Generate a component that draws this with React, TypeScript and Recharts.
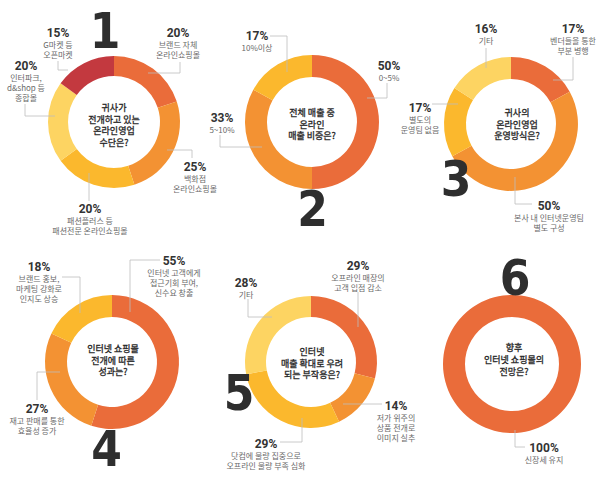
import React from 'react';
import { PieChart, Pie, Cell } from 'recharts';

// ---------- DATA ----------
const c1Names = ['브랜드 자체|온라인쇼핑몰', '백화점|온라인쇼핑몰', '패션플러스 등|패션전문 온라인쇼핑몰', '인터파크,|d&shop 등|종합몰', 'G마켓 등|오픈마켓'];
const c1Values = [20, 25, 20, 20, 15];
const c1Title = ['귀사가', '전개하고 있는', '온라인영업', '수단은?'];

const c2Names = ['0~5%', '5~10%', '10%이상'];
const c2Values = [50, 33, 17];
const c2Title = ['전체 매출 중', '온라인', '매출 비중은?'];

const c3Names = ['벤더들을 통한|부분 병행', '본사 내 인터넷운영팀|별도 구성', '별도의|운영팀 없음', '기타'];
const c3Values = [17, 50, 17, 16];
const c3Title = ['귀사의', '온라인영업', '운영방식은?'];

const c4Names = ['인터넷 고객에게|접근기회 부여,|신수요 창출', '재고 판매를 통한|효율성 증가', '브랜드 홍보,|마케팅 강화로|인지도 상승'];
const c4Values = [55, 27, 18];
const c4Title = ['인터넷 쇼핑몰', '전개에 따른', '성과는?'];

const c5Names = ['오프라인 매장의|고객 입점 감소', '저가 위주의|상품 전개로|이미지 실추', '닷컴에 물량 집중으로|오프라인 물량 부족 심화', '기타'];
const c5Values = [29, 14, 29, 28];
const c5Title = ['인터넷', '매출 확대로 우려', '되는 부작용은?'];

const c6Names = ['신장세 유지'];
const c6Values = [100];
const c6Title = ['향후', '인터넷 쇼핑몰의', '전망은?'];

const bigNumbers = ['1', '2', '3', '4', '5', '6'];

// ---------- STYLE / LAYOUT ----------
const RED = '#EA6C3A';
const ORANGE = '#F39233';
const AMBER = '#FBB82D';
const LIGHT = '#FDD462';
const DARK = '#C3393F';

const KR = '"Noto Sans CJK KR", "Noto Sans", sans-serif';
const NUM = '"Liberation Sans Narrow", "DejaVu Sans Condensed", sans-serif';
const PCT = 'Roboto, "Noto Sans CJK KR", sans-serif';

type LabelLayout = { x: number; y: number; line: number[][] };
type ChartDef = {
  names: string[];
  values: number[];
  colors: string[];
  title: string[];
  cx: number; cy: number; r: number; ir: number;
  titleX: number; titleMid: number;
  num: { x: number; y: number };
  labels: LabelLayout[];
};

const charts: ChartDef[] = [
  {
    names: c1Names, values: c1Values, colors: [RED, ORANGE, AMBER, LIGHT, DARK], title: c1Title,
    cx: 114, cy: 122, r: 66, ir: 46, titleX: 114, titleMid: 128.5,
    num: { x: 105, y: 48 },
    labels: [
      { x: 178, y: 37, line: [[180, 62], [180, 73], [148, 73]] },
      { x: 195, y: 171, line: [[167, 150], [192, 150], [192, 158]] },
      { x: 90, y: 213, line: [[89, 173], [89, 201]] },
      { x: 26, y: 70, line: [[25, 104], [25, 116], [55, 116]] },
      { x: 58, y: 37, line: [[58, 61], [58, 70], [68, 70]] },
    ],
  },
  {
    names: c2Names, values: c2Values, colors: [RED, ORANGE, AMBER], title: c2Title,
    cx: 312, cy: 122, r: 67, ir: 45, titleX: 312, titleMid: 127.5,
    num: { x: 312.5, y: 226 },
    labels: [
      { x: 389, y: 70, line: [[367, 98], [387, 98], [387, 83]] },
      { x: 222, y: 122, line: [[220, 135], [220, 147], [262, 147]] },
      { x: 257, y: 40, line: [[270, 36], [287, 36], [287, 72]] },
    ],
  },
  {
    names: c3Names, values: c3Values, colors: [RED, ORANGE, AMBER, LIGHT], title: c3Title,
    cx: 511, cy: 124, r: 67, ir: 45, titleX: 517, titleMid: 127.5,
    num: { x: 456, y: 196 },
    labels: [
      { x: 573, y: 33, line: [[573, 57], [573, 80], [553, 80]] },
      { x: 549, y: 210, line: [[515, 177], [515, 204], [532, 204]] },
      { x: 420, y: 112, line: [[432, 104], [458, 104]] },
      { x: 486, y: 33, line: [[486, 48], [486, 68]] },
    ],
  },
  {
    names: c4Names, values: c4Values, colors: [RED, ORANGE, AMBER], title: c4Title,
    cx: 112, cy: 362, r: 67, ir: 45, titleX: 113, titleMid: 363.5,
    num: { x: 106.5, y: 466 },
    labels: [
      { x: 174, y: 265, line: [[160, 260], [130, 260], [130, 312]] },
      { x: 37, y: 413, line: [[37, 400], [37, 372], [60, 372]] },
      { x: 39, y: 271, line: [[62, 277], [80, 277], [80, 313]] },
    ],
  },
  {
    names: c5Names, values: c5Values, colors: [RED, ORANGE, AMBER, LIGHT], title: c5Title,
    cx: 311, cy: 362, r: 66, ir: 45, titleX: 312, titleMid: 366.5,
    num: { x: 239, y: 410 },
    labels: [
      { x: 358, y: 270, line: [[358, 292], [358, 327]] },
      { x: 396, y: 410, line: [[343, 404], [382, 404]] },
      { x: 266, y: 448, line: [[302, 418], [302, 442], [280, 442]] },
      { x: 246, y: 287, line: [[248, 299], [248, 317], [272, 317]] },
    ],
  },
  {
    names: c6Names, values: c6Values, colors: [RED], title: c6Title,
    cx: 512, cy: 364, r: 69, ir: 47, titleX: 514, titleMid: 363,
    num: { x: 515, y: 295 },
    labels: [
      { x: 544, y: 452, line: [[515, 430], [515, 447], [525, 447]] },
    ],
  },
];

const W = 600;
const H = 477;
const TITLE_SIZE = 9;
const TITLE_GAP = 11.6;

export default function App() {
  return (
    <div style={{ position: 'absolute', left: 0, top: 0, width: W, height: H, background: '#fff' }}>
      <PieChart width={W} height={H} margin={{ top: 0, right: 0, bottom: 0, left: 0 }}>
        {charts.map((c, ci) => (
          <Pie
            key={ci}
            data={c.values.map((v, i) => ({ name: c.names[i], value: v }))}
            dataKey="value"
            cx={c.cx}
            cy={c.cy}
            outerRadius={c.r}
            innerRadius={c.ir}
            startAngle={90}
            endAngle={-270}
            stroke="none"
            isAnimationActive={false}
            label={false}
            labelLine={false}
          >
            {c.values.map((_, i) => (
              <Cell key={i} fill={c.colors[i]} stroke="none" />
            ))}
          </Pie>
        ))}
      </PieChart>
      <svg width={W} height={H} style={{ position: 'absolute', left: 0, top: 0, pointerEvents: 'none' }}>
        {charts.map((c, ci) => {
          const start = c.titleMid - ((c.title.length - 1) * TITLE_GAP) / 2;
          return (
            <g key={ci}>
              <text x={c.num.x} y={c.num.y} textAnchor="middle" fontFamily={NUM} fontWeight={700} fontSize={49} fill="#2e2e2e">
                {bigNumbers[ci]}
              </text>
              {c.title.map((t, ti) => (
                <text
                  key={ti}
                  x={c.titleX}
                  y={start + ti * TITLE_GAP}
                  textAnchor="middle"
                  fontFamily={KR}
                  fontSize={TITLE_SIZE}
                  fill="#262626"
                  stroke="#262626"
                  strokeWidth={0.3}
                >
                  {t}
                </text>
              ))}
              {c.labels.map((l, li) => (
                <g key={li}>
                  <polyline points={l.line.map((p) => p.join(',')).join(' ')} fill="none" stroke="#bdbdbd" strokeWidth={0.8} />
                  <text x={l.x} y={l.y} textAnchor="middle" fontFamily={PCT} fontWeight={700} fontSize={12} fill="#333">
                    {c.values[li]}%
                  </text>
                  {c.names[li].split('|').map((d, di) => (
                    <text key={di} x={l.x} y={l.y + 10.5 + di * 10.2} textAnchor="middle" fontFamily={KR} fontSize={8} fill="#6a6a6a">
                      {d}
                    </text>
                  ))}
                </g>
              ))}
            </g>
          );
        })}
      </svg>
    </div>
  );
}
